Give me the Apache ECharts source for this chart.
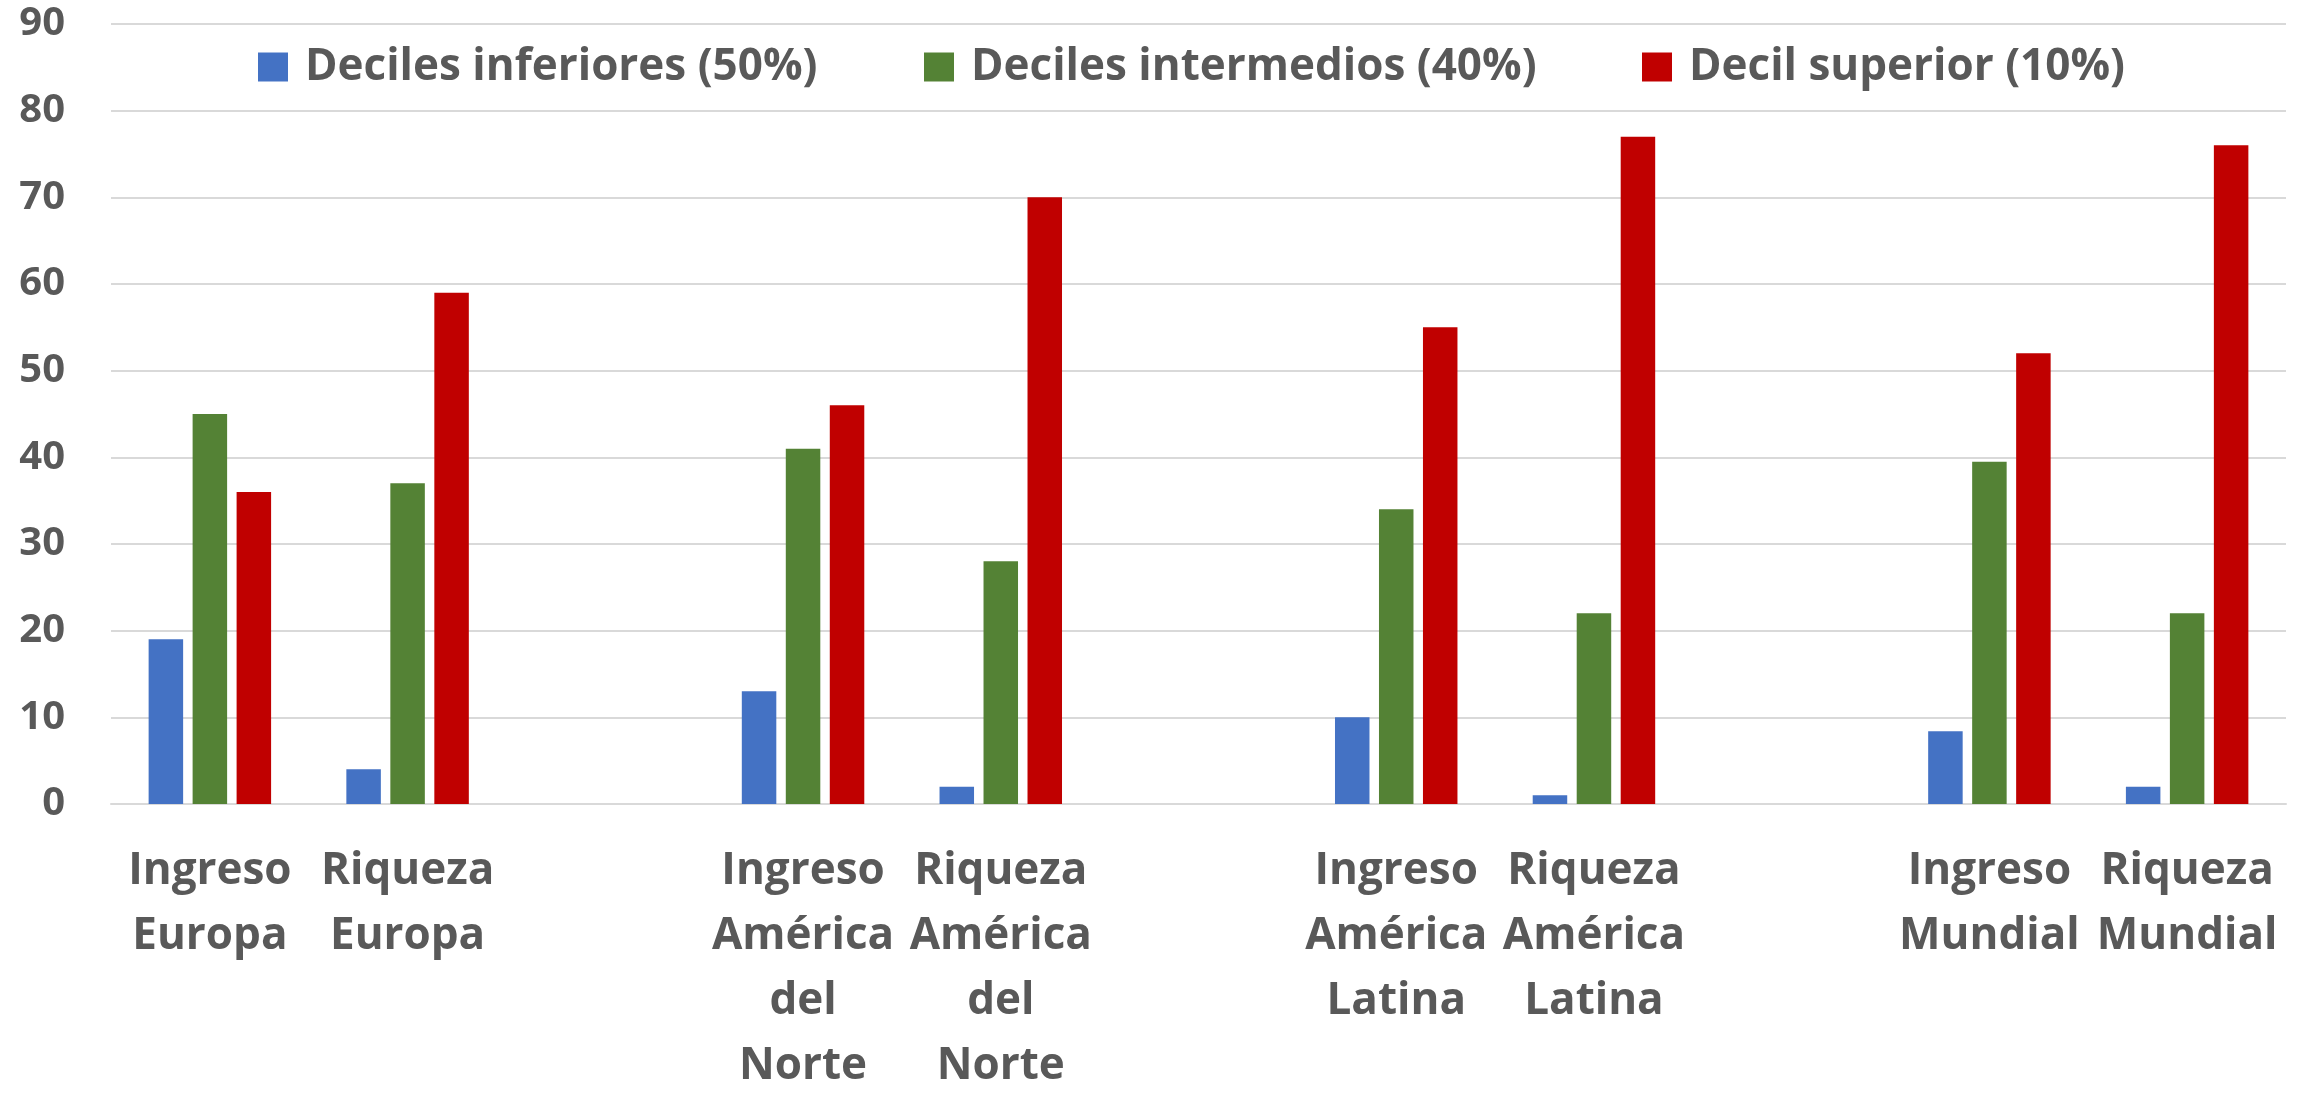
<!DOCTYPE html>
<html>
<head>
<meta charset="utf-8">
<style>
  html, body { margin: 0; padding: 0; background: #ffffff; overflow: hidden; }
  #chart { width: 2306px; height: 1099px; }
</style>
<script src="https://cdn.jsdelivr.net/npm/echarts@6/dist/echarts.min.js"></script>
</head>
<body>
<div id="chart"></div>
<script>
// Categories; empty strings are spacer slots between regions
const categories = [
  'Ingreso Europa', 'Riqueza Europa', '',
  'Ingreso América del Norte', 'Riqueza América del Norte', '',
  'Ingreso América Latina', 'Riqueza América Latina', '',
  'Ingreso Mundial', 'Riqueza Mundial'
];

const seriesNames = ['Deciles inferiores (50%)', 'Deciles intermedios (40%)', 'Decil superior (10%)'];

// Share (%) held by each group
const decilesInferiores  = [19, 4, null, 13, 2, null, 10, 1, null, 8.4, 2];
const decilesIntermedios = [45, 37, null, 41, 28, null, 34, 22, null, 39.5, 22];
const decilSuperior      = [36, 59, null, 46, 70, null, 55, 77, null, 52, 76];

const yTicks = { min: 0, max: 90, interval: 10 };

const colors = ['#4472c4', '#548235', '#c00000'];
const textColor = '#595959';
const fontFamily = '"Open Sans", Lato, sans-serif';

const chart = echarts.init(document.getElementById('chart'));

const values = [decilesInferiores, decilesIntermedios, decilSuperior];

// one legend entry per series, laid out across the top
const legendLeft = [253, 919, 1637];
const legends = seriesNames.map((name, i) => ({
  data: [name],
  left: legendLeft[i],
  top: 37,
  icon: 'rect',
  itemWidth: 30,
  itemHeight: 29,
  textStyle: {
    color: textColor,
    fontFamily: fontFamily,
    fontWeight: 'bold',
    fontSize: 44,
    lineHeight: 50,
    padding: [0, 0, 0, 12]
  }
}));

chart.setOption({
  animation: false,
  backgroundColor: '#ffffff',
  grid: { left: 111, right: 20, top: 24, bottom: 284, containLabel: false },
  legend: legends,
  xAxis: {
    type: 'category',
    data: categories,
    axisLine: { lineStyle: { color: '#d9d9d9', width: 2 } },
    axisTick: { show: false },
    axisLabel: {
      interval: 0,
      margin: 35,
      color: textColor,
      fontFamily: fontFamily,
      fontWeight: 'bold',
      fontSize: 44,
      lineHeight: 65,
      formatter: v => v.split(' ').join('\n')
    }
  },
  yAxis: {
    type: 'value',
    min: yTicks.min,
    max: yTicks.max,
    interval: yTicks.interval,
    axisLine: { show: false },
    axisTick: { show: false },
    splitLine: { lineStyle: { color: '#d9d9d9', width: 2 } },
    axisLabel: {
      margin: 46,
      color: textColor,
      fontFamily: fontFamily,
      fontWeight: 'bold',
      fontSize: 40
    }
  },
  series: seriesNames.map((name, i) => ({
    name: name,
    type: 'bar',
    data: values[i],
    barWidth: 34.5,
    barGap: '27.5%',
    itemStyle: { color: colors[i] }
  }))
});
</script>
</body>
</html>
